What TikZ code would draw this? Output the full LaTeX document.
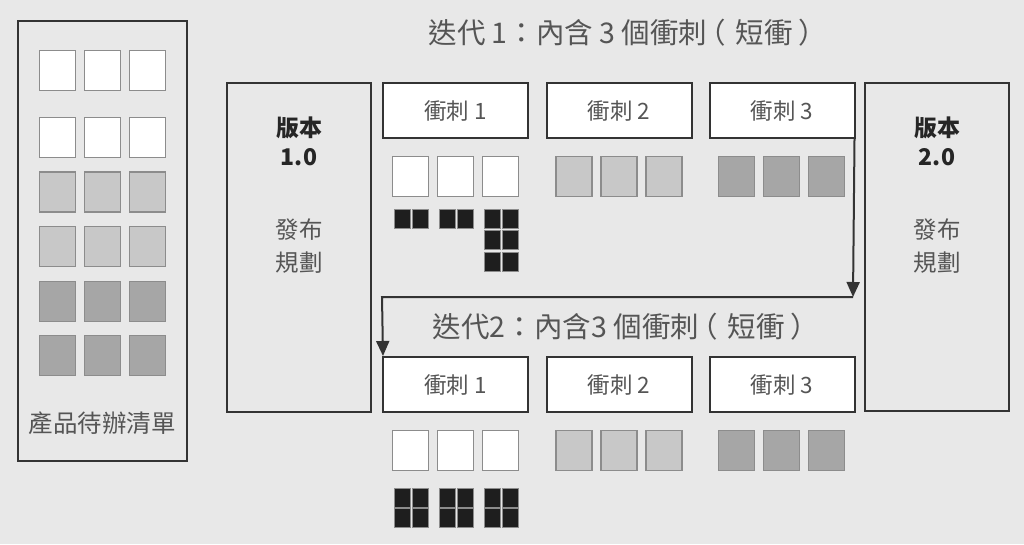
\documentclass[tikz,border=0pt]{standalone}
\usepackage{fontspec}
\setmainfont{Noto Sans CJK TC}
\newfontfamily\cjk{Noto Sans CJK TC}
\usetikzlibrary{arrows.meta}
\definecolor{bg}{HTML}{E8E8E8}
\definecolor{txt}{HTML}{555555}
\definecolor{frame}{HTML}{333333}
\definecolor{sqline}{HTML}{8C8C8C}
\definecolor{lgray}{HTML}{C8C8C8}
\definecolor{dgray}{HTML}{A6A6A6}
\definecolor{blk}{HTML}{1E1E1E}
\tikzset{
  frm/.style={draw=frame, line width=2pt, inner sep=0pt},
  sprintbox/.style={frm, fill=white, minimum width=145pt, minimum height=55pt, font=\cjk\fontsize{22.5}{24}\selectfont, text=txt},
  sqbox/.style={draw=sqline, line width=1.6pt, minimum width=36pt, minimum height=40pt, inner sep=0pt},
  wsq/.style={sqbox, fill=white},
  lsq/.style={sqbox, fill=lgray},
  dsq/.style={sqbox, fill=dgray},
  bsq/.style={draw=sqline, line width=0.6pt, fill=blk, minimum width=16pt, minimum height=19pt, inner sep=0pt},
  ttl/.style={font=\cjk\fontsize{28.5}{30}\selectfont, text=txt, inner sep=0pt},
  vb/.style={font=\cjk\bfseries\fontsize{23}{24}\selectfont, text=black!85, inner sep=0pt},
  vt/.style={font=\cjk\fontsize{23.5}{24}\selectfont, text=txt, inner sep=0pt},
  arr/.style={draw=frame, line width=2pt, -{Triangle[width=13pt,length=15pt]}},
  ln/.style={draw=frame, line width=2pt}
}
\begin{document}
\begin{tikzpicture}[x=1pt,y=-1pt]
\fill[bg] (0,0) rectangle (1024,544);
\useasboundingbox (0,0) rectangle (1024,544);
% backlog
\node[frm, minimum width=169pt, minimum height=440pt] (backlog) at (102.5,241) {};
\foreach \r/\y/\s in {1/70.5/wsq,2/137.5/wsq,3/192/lsq,4/246.5/lsq,5/301.5/dsq,6/355.5/dsq}{
  \foreach \c/\x in {1/57.5,2/102.5,3/147.5}{
    \node[\s] (b\r-\c) at (\x,\y) {};
  }
}
\node[font=\cjk\fontsize{24.5}{26}\selectfont, text=txt, inner sep=0pt] (bltext) at (102,423) {產品待辦清單};
% version boxes
\node[frm, minimum width=144pt, minimum height=329pt] (v1) at (299,247.5) {};
\node[vb] (v1a) at (299,128) {版本};
\node[vb] (v1b) at (299,157) {1.0};
\node[vt] (v1c) at (299,230) {發布};
\node[vt] (v1d) at (299,263) {規劃};
\node[frm, minimum width=144pt, minimum height=328pt] (v2) at (937,247) {};
\node[vb] (v2a) at (937,128) {版本};
\node[vb] (v2b) at (937,157) {2.0};
\node[vt] (v2c) at (937,230) {發布};
\node[vt] (v2d) at (937,263) {規劃};
% titles
\node[ttl] (t1) at (628,33) {迭代 1：內含 3 個衝刺\hspace{-10pt}（\hspace{10pt}短衝\hspace{6pt}）};
\node[ttl] (t2) at (626,327) {迭代2：內含3 個衝刺\hspace{-10pt}（\hspace{10pt}短衝\hspace{6pt}）};
% sprint boxes
\node[sprintbox] (s11) at (455.5,110.5) {衝刺 1};
\node[sprintbox] (s12) at (619,110.5) {衝刺 2};
\node[sprintbox] (s13) at (782,110.5) {衝刺 3};
\node[sprintbox] (s21) at (455.5,384.5) {衝刺 1};
\node[sprintbox] (s22) at (619,384.5) {衝刺 2};
\node[sprintbox] (s23) at (782,384.5) {衝刺 3};
% story squares
\foreach \k in {0,1,2}{
  \node[wsq] (a1-\k) at ({410.5+45*\k},176.5) {};
  \node[lsq] (a2-\k) at ({574+45*\k},176.5) {};
  \node[dsq] (a3-\k) at ({736.5+45*\k},176.5) {};
  \node[wsq] (c1-\k) at ({410.5+45*\k},450.5) {};
  \node[lsq] (c2-\k) at ({574+45*\k},450.5) {};
  \node[dsq] (c3-\k) at ({736.5+45*\k},450.5) {};
}
% tasks
\foreach \k in {0,1,2}{
  \node[bsq] (ta-\k-0) at ({402+45*\k},218.5) {};
  \node[bsq] (ta-\k-1) at ({420.5+45*\k},218.5) {};
  \node[bsq] (tc-\k-0) at ({402+45*\k},497.5) {};
  \node[bsq] (tc-\k-1) at ({420.5+45*\k},497.5) {};
  \node[bsq] (tc-\k-2) at ({402+45*\k},518) {};
  \node[bsq] (tc-\k-3) at ({420.5+45*\k},518) {};
}
\node[bsq] (tx1) at (492,240) {};
\node[bsq] (tx2) at (510.5,240) {};
\node[bsq] (tx3) at (492,261.5) {};
\node[bsq] (tx4) at (510.5,261.5) {};
% arrow
\coordinate (turn) at (853,297);
\draw[arr] ([xshift=-1pt]s13.south east) -- (turn);
\draw[arr] (turn) -- (turn -| s21.north west) -- ([xshift=1pt]s21.north west);
\end{tikzpicture}
\end{document}
